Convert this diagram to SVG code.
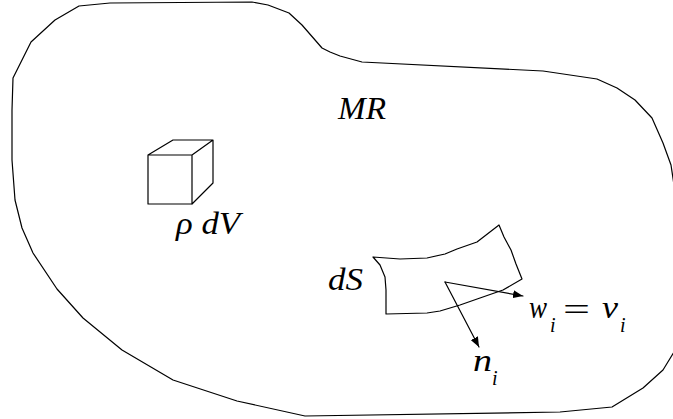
<svg xmlns="http://www.w3.org/2000/svg" width="673" height="419" viewBox="0 0 673 419">
<defs>
<style>
.ln{fill:none;stroke:#000;stroke-width:1.2;stroke-linejoin:round;stroke-linecap:round}
</style>
<marker id="ah" viewBox="0 0 10 8" refX="10" refY="4" markerWidth="10" markerHeight="8" markerUnits="userSpaceOnUse" orient="auto">
<path d="M0,0 L10,4 L0,8 Z" fill="#000"/>
</marker>
</defs>
<rect width="673" height="419" fill="#fff"/>
<g id="region">
<path class="ln" d="M79,6 L110,3 L252,2 L268,5 L289,13 L302,25 L322,48 L330,52 L340,56 L362,62 L543,71 L597,79 L617,88 L635,100 L652,118 L663,143 L671,165 L674,185 L676,270 L674,352 L663,370 L643,388 L612,407 L560,412 L305,416 L237,401 L173,380 L122,350 L83,318 L57,289 L33,253 L22,228 L15,200 L12,160 L12,110 L13,78 L31,42 L55,20 Z"/>
<text font-family="Liberation Serif, serif" font-style="italic" font-size="32" fill="#000" x="338" y="119" textLength="48" lengthAdjust="spacingAndGlyphs">MR</text>
</g>
<g id="cube">
<path class="ln" d="M148,155 H192 V204 H148 Z M148,155 L173,140 H213 L192,155 M213,140 V183 L192,204"/>
<text font-family="Liberation Serif, serif" font-style="italic" font-size="32" fill="#000" x="176" y="234" textLength="64" lengthAdjust="spacingAndGlyphs">ρ dV</text>
</g>
<g id="surface">
<path class="ln" d="M373,257 L400,259 L427,258 L445,254 L457,249 L477,242 L499,225 L504,237 L511,250 L516,264 L522,279 L503,290 L480,298 L460,305 L440,311 L427,313 L386,314 L386,290 L385,277 L380,265 Z"/>
<text font-family="Liberation Serif, serif" font-style="italic" font-size="32" fill="#000" x="328" y="290" textLength="35" lengthAdjust="spacingAndGlyphs">dS</text>
</g>
<g id="connectors">
<line class="ln" x1="445" y1="282" x2="523" y2="296" marker-end="url(#ah)"/>
<line class="ln" x1="445" y1="282" x2="479" y2="347" marker-end="url(#ah)"/>
</g>
<g id="label-w" font-family="Liberation Serif, serif" fill="#000">
<text font-style="italic" font-size="32" x="529" y="318" textLength="18" lengthAdjust="spacingAndGlyphs">w</text>
<text font-style="italic" font-size="20" x="550" y="332">i</text>
<text font-size="32" x="563" y="320" textLength="27" lengthAdjust="spacingAndGlyphs">=</text>
<text font-style="italic" font-size="32" x="602" y="318" textLength="16" lengthAdjust="spacingAndGlyphs">v</text>
<text font-style="italic" font-size="20" x="620" y="332">i</text>
</g>
<g id="label-n" font-family="Liberation Serif, serif" fill="#000">
<text font-style="italic" font-size="32" x="473" y="371" textLength="19" lengthAdjust="spacingAndGlyphs">n</text>
<text font-style="italic" font-size="20" x="492" y="385">i</text>
</g>
</svg>
